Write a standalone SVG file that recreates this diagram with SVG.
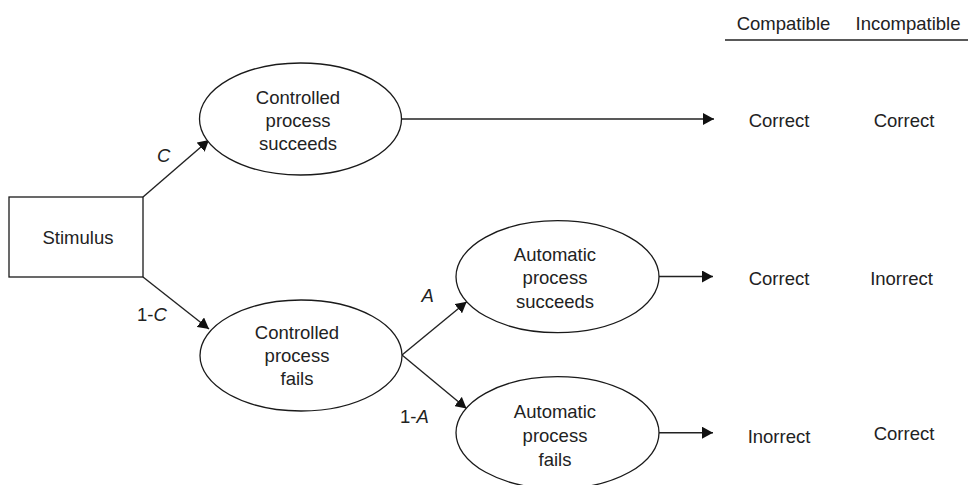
<svg xmlns="http://www.w3.org/2000/svg" width="968" height="485" viewBox="0 0 968 485">
<style>
.t{font-family:"Liberation Sans",Arial,sans-serif;font-size:18.5px;fill:#222;}
.m{text-anchor:middle;}
.i{font-style:italic;}
.shape{fill:#fff;stroke:#1a1a1a;stroke-width:1.3;}
.conn{stroke:#222;stroke-width:1.4;fill:none;marker-end:url(#ah);}
</style>
<defs>
<marker id="ah" markerUnits="userSpaceOnUse" markerWidth="11" markerHeight="12" refX="11" refY="6" orient="auto">
<path d="M0,0 L11,6 L0,12 z" fill="#111"/>
</marker>
</defs>
<rect width="968" height="485" fill="#fff"/>
<g id="connectors">
<line class="conn" x1="143" y1="197" x2="209" y2="140"/>
<line class="conn" x1="143" y1="277" x2="209" y2="329"/>
<line class="conn" x1="402" y1="355" x2="466.7" y2="301.7"/>
<line class="conn" x1="402" y1="355" x2="466.5" y2="408.5"/>
<line class="conn" x1="401.7" y1="119" x2="714" y2="119"/>
<line class="conn" x1="659" y1="276.5" x2="713" y2="276.5"/>
<line class="conn" x1="659" y1="432.7" x2="713" y2="432.7"/>
</g>
<g id="labels">
<text class="t i" x="157" y="162">C</text>
<text class="t" x="137" y="321">1-<tspan class="i">C</tspan></text>
<text class="t i" x="421.5" y="302">A</text>
<text class="t" x="400" y="423">1-<tspan class="i">A</tspan></text>
</g>
<g id="stimulus">
<rect class="shape" x="9" y="197" width="134" height="80"/>
<text class="t m" x="78" y="244">Stimulus</text>
</g>
<g id="controlled-succeeds">
<ellipse class="shape" cx="300.5" cy="119" rx="101" ry="56"/>
<text class="t m" x="298" y="104">Controlled</text>
<text class="t m" x="298" y="127">process</text>
<text class="t m" x="298" y="150">succeeds</text>
</g>
<g id="controlled-fails">
<ellipse class="shape" cx="301" cy="355.5" rx="101" ry="55.5"/>
<text class="t m" x="297" y="339">Controlled</text>
<text class="t m" x="297" y="362">process</text>
<text class="t m" x="297" y="385">fails</text>
</g>
<g id="automatic-succeeds">
<ellipse class="shape" cx="557.5" cy="276.7" rx="101.5" ry="56"/>
<text class="t m" x="555" y="261">Automatic</text>
<text class="t m" x="555" y="284">process</text>
<text class="t m" x="555" y="308">succeeds</text>
</g>
<g id="automatic-fails">
<ellipse class="shape" cx="557.5" cy="432.7" rx="101.5" ry="56"/>
<text class="t m" x="555" y="418">Automatic</text>
<text class="t m" x="555" y="442">process</text>
<text class="t m" x="555" y="466">fails</text>
</g>
<g id="table">
<text class="t m" x="783.5" y="30">Compatible</text>
<text class="t m" x="908" y="30">Incompatible</text>
<line x1="725" y1="40" x2="968" y2="40" stroke="#222" stroke-width="1.3"/>
<text class="t m" x="779" y="127">Correct</text>
<text class="t m" x="904" y="127">Correct</text>
<text class="t m" x="779" y="285">Correct</text>
<text class="t m" x="901.5" y="285">Inorrect</text>
<text class="t m" x="779" y="443">Inorrect</text>
<text class="t m" x="904" y="440">Correct</text>
</g>
</svg>
